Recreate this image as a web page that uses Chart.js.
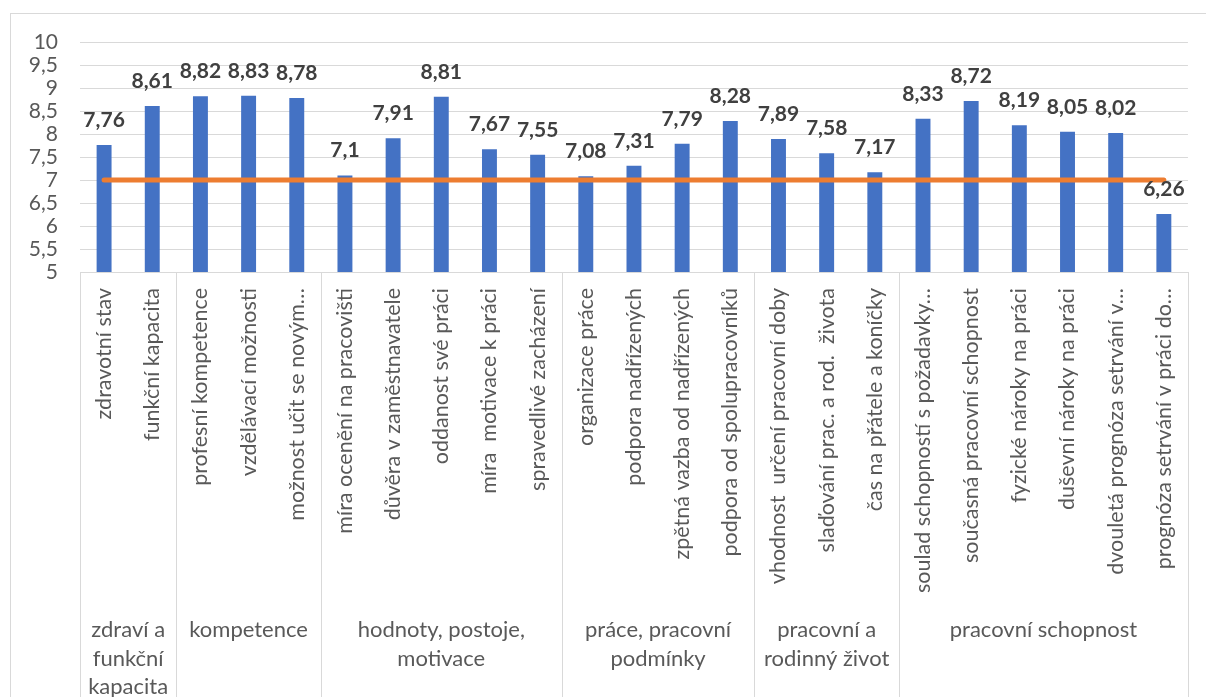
<!DOCTYPE html>
<html lang="cs">
<head>
    <meta charset="UTF-8">
    <title>Hodnocení oblastí pracovní schopnosti</title>
    <style>
        body {
            margin: 0;
            background: #fff;
            overflow: hidden;
        }
        .frame {
            position: absolute;
            left: 10px;
            top: 13px;
            width: 1230px;
            height: 800px;
            border: 1px solid #d9d9d9;
        }
        #chart {
            position: absolute;
            left: 0;
            top: 0;
        }
    </style>
</head>
<body>
    <div class="frame"></div>
    <canvas id="chart" width="1206" height="760"></canvas>
    <script src="https://cdn.jsdelivr.net/npm/chart.js"></script>
    <script>
        const categories = [
            'zdravotní stav', 'funkční kapacita',
            'profesní kompetence', 'vzdělávací možnosti', 'možnost učit se novým…',
            'míra ocenění na pracovišti', 'důvěra v zaměstnavatele', 'oddanost své práci', 'míra  motivace k práci', 'spravedlivé zacházení',
            'organizace práce', 'podpora nadřízených', 'zpětná vazba od nadřízených', 'podpora od spolupracovníků',
            'vhodnost  určení pracovní doby', 'slaďování prac. a rod.  života', 'čas na přátele a koníčky',
            'soulad schopností s požadavky…', 'současná pracovní schopnost', 'fyzické nároky na práci', 'duševní nároky na práci', 'dvouletá prognóza setrvání v…', 'prognóza setrvání v práci do…'
        ];
        const scores = [7.76, 8.61, 8.82, 8.83, 8.78, 7.1, 7.91, 8.81, 7.67, 7.55, 7.08, 7.31, 7.79, 8.28, 7.89, 7.58, 7.17, 8.33, 8.72, 8.19, 8.05, 8.02, 6.26];
        const threshold = [7, 7, 7, 7, 7, 7, 7, 7, 7, 7, 7, 7, 7, 7, 7, 7, 7, 7, 7, 7, 7, 7, 7];
        const groupSizes = [2, 3, 5, 4, 3, 6];
        const groupLabels = [
            ['zdraví a', 'funkční', 'kapacita'],
            ['kompetence'],
            ['hodnoty, postoje,', 'motivace'],
            ['práce, pracovní', 'podmínky'],
            ['pracovní a', 'rodinný život'],
            ['pracovní schopnost']
        ];

        const FONT = 'Lato, "Noto Sans", sans-serif';
        const fmt = v => String(v).replace('.', ',');

        // value labels above bars
        const barLabels = {
            id: 'barLabels',
            afterDatasetsDraw(chart) {
                const ctx = chart.ctx;
                const meta = chart.getDatasetMeta(0);
                ctx.save();
                ctx.font = 'bold 21px ' + FONT;
                ctx.fillStyle = '#404040';
                ctx.textAlign = 'center';
                ctx.textBaseline = 'alphabetic';
                meta.data.forEach((bar, i) => {
                    ctx.fillText(fmt(scores[i]), bar.x, bar.y - 18);
                });
                ctx.restore();
            }
        };

        // second level of the category axis
        const groupAxis = {
            id: 'groupAxis',
            afterDraw(chart) {
                const ctx = chart.ctx;
                const x = chart.scales.x;
                const step = (x.right - x.left) / categories.length;
                const top = x.top;
                const bottom = chart.height;
                ctx.save();
                ctx.strokeStyle = '#d9d9d9';
                ctx.lineWidth = 1;
                let idx = 0;
                const edges = [0];
                groupSizes.forEach(n => { idx += n; edges.push(idx); });
                edges.forEach(e => {
                    const px = Math.round(x.left + e * step) + 0.5;
                    ctx.beginPath();
                    ctx.moveTo(px, top);
                    ctx.lineTo(px, bottom);
                    ctx.stroke();
                });
                ctx.font = '22px ' + FONT;
                ctx.fillStyle = '#595959';
                ctx.textAlign = 'center';
                ctx.textBaseline = 'middle';
                groupLabels.forEach((lines, g) => {
                    const cx = x.left + (edges[g] + edges[g + 1]) / 2 * step;
                    lines.forEach((t, k) => ctx.fillText(t, cx, 630 + k * 28.5));
                });
                ctx.restore();
            }
        };

        new Chart(document.getElementById('chart'), {
            data: {
                labels: categories,
                datasets: [
                    {
                        type: 'bar',
                        data: scores,
                        backgroundColor: '#4472C4',
                        categoryPercentage: 1,
                        barPercentage: 0.31,
                        order: 1
                    },
                    {
                        type: 'line',
                        data: threshold,
                        borderColor: '#ED7D31',
                        borderWidth: 5,
                        borderCapStyle: 'round',
                        pointRadius: 0,
                        fill: false,
                        order: 0
                    }
                ]
            },
            options: {
                responsive: false,
                animation: false,
                layout: { padding: { left: 10, right: 16, top: 42, bottom: 0 } },
                plugins: {
                    legend: { display: false },
                    tooltip: { enabled: false }
                },
                scales: {
                    x: {
                        grid: { display: false, drawTicks: false },
                        border: { color: '#d9d9d9' },
                        ticks: {
                            autoSkip: false,
                            minRotation: 90,
                            maxRotation: 90,
                            padding: 16,
                            color: '#595959',
                            font: { family: FONT, size: 21.5 }
                        },
                        afterFit(scale) { scale.height = 760 - 272; }
                    },
                    y: {
                        min: 5,
                        max: 10,
                        grid: { color: '#d9d9d9', drawTicks: false },
                        border: { display: false },
                        ticks: {
                            autoSkip: false,
                            stepSize: 0.5,
                            padding: 22,
                            color: '#595959',
                            font: { family: FONT, size: 21 },
                            callback: v => fmt(v)
                        },
                        afterFit(scale) { scale.width = 70; }
                    }
                }
            },
            plugins: [barLabels, groupAxis]
        });
    </script>
</body>
</html>
